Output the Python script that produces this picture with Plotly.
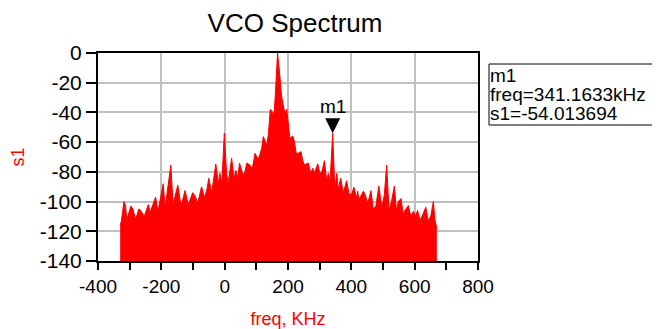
import plotly.graph_objects as go

# Spectrum data (freq in kHz, s1 in dB)
freq = [-330, -326, -318, -313, -309, -296, -290, -281, -271, -265, -254, -241, -235,
        -218, -211, -194, -188, -170, -163, -148, -138, -125, -115, -101, -94, -85,
        -73, -64, -57, -50, -41, -28, -20, -15, -9, -1, 6, 11, 22, 30, 35, 41, 47,
        56, 62, 70, 80, 87, 96, 104, 109, 117, 122, 127, 133, 138, 144, 150, 155,
        159, 164, 167, 171, 175, 180, 185, 190, 196, 201, 206, 215, 220, 226, 233,
        241, 246, 252, 264, 272, 278, 283, 294, 301, 308, 315, 322, 327, 333,
        341.1633, 348, 354, 359, 366, 375, 385, 393, 401, 408, 417, 420, 424, 430,
        438, 443, 452, 462, 469, 477, 487, 496, 504, 511.6, 519, 527, 536, 543,
        548, 557, 564, 569, 580, 588, 596, 603, 609, 617, 624, 635, 643, 651, 659,
        664, 670]
s1 = [-116, -113, -100, -103, -112, -103, -105, -112, -105, -106, -110, -102, -107,
      -97, -107, -88, -104, -75.4, -102, -89, -103, -92.6, -102, -94, -96, -101,
      -90, -97, -93, -84.3, -94, -74.7, -87.7, -81, -87.7, -54, -81, -87.7, -70.9,
      -85, -79, -84, -74.2, -80.7, -82, -74, -75.5, -78, -67.5, -71, -70, -64,
      -56.3, -58.8, -62, -55, -37.9, -39.5, -42.8, -31.6, -4.7, 0, -8, -20.4,
      -29.4, -35, -40.6, -37.9, -48, -57.4, -55.9, -59.4, -67.5, -67.5, -66.4,
      -72, -75.4, -74, -81, -77.5, -81, -74.6, -81.5, -79, -72.5, -86, -81, -86,
      -54.013694, -92, -81, -92, -84.3, -94, -86, -95, -95, -90.4, -97.6, -93,
      -98.8, -96.5, -93, -95, -101, -92.7, -104.5, -103.7, -89.5, -104, -95.7,
      -75.4, -105.7, -99.7, -89.5, -107.5, -100, -98, -108.7, -106, -102.7, -110,
      -106.5, -110, -106, -112.4, -109.7, -103.8, -113, -109.7, -100, -112.4, -118]

marker_freq = 341.1633
marker_s1 = -54.013694
x_ticks = [-400, -200, 0, 200, 400, 600, 800]
y_ticks = [0, -20, -40, -60, -80, -100, -120, -140]
x_range = [-400, 800]
y_range = [-140, 0]

RED = "#ff0000"
FONT = "Arial, Liberation Sans, sans-serif"

# The page body adds an 8px margin, so the figure is 8px smaller than the window
W, H = 652, 321
OFF = 8
L, T, R, B = 98 - OFF, 53 - OFF, 660 - 478, 329 - 261
PW, PH = W - L - R, H - T - B

def px_x(p):  # window pixel -> paper x
    return (p - OFF - L) / PW

def px_y(p):  # window pixel -> paper y
    return (H - B - (p - OFF)) / PH

fig = go.Figure()
# invisible baseline at the axis floor so the spectrum fills down to it
fig.add_trace(go.Scatter(x=[freq[0], freq[-1]], y=[y_range[0], y_range[0]], mode="lines",
                         line=dict(width=0, color=RED), hoverinfo="skip", showlegend=False))
fig.add_trace(go.Scatter(x=freq, y=s1, mode="lines", line=dict(color=RED, width=1),
                         fill="tonexty", fillcolor=RED, showlegend=False))

# marker m1: downward triangle with its tip on the point
fig.add_shape(type="path", xref="x", yref="y", xsizemode="pixel", ysizemode="pixel",
              xanchor=marker_freq, yanchor=marker_s1,
              path="M -7.5,15 L 7.5,15 L 0,0 Z", fillcolor="black", line=dict(width=0))
fig.add_annotation(x=marker_freq, y=marker_s1, text="m1", showarrow=False,
                   yanchor="bottom", yshift=14, font=dict(family=FONT, size=19, color="black"))

# readout box
fig.add_shape(type="rect", xref="paper", yref="paper", x0=px_x(489), x1=px_x(658),
              y0=px_y(125), y1=px_y(64), line=dict(color="black", width=1), fillcolor="white")
lines = ["m1", "freq=%.4fkHz" % marker_freq, "s1=%.6f" % marker_s1]
for i, t in enumerate(lines):
    fig.add_annotation(xref="paper", yref="paper", x=px_x(488), y=px_y(75.5 + i * 19),
                       text=t, showarrow=False, xanchor="left", yanchor="middle",
                       font=dict(family=FONT, size=19, color="black"))

fig.update_layout(
    width=W, height=H,
    margin=dict(l=L, r=R, t=T, b=B, autoexpand=False),
    paper_bgcolor="white", plot_bgcolor="white",
    title=dict(text="VCO Spectrum", x=(295 - OFF) / W, xanchor="center",
               y=1 - (23 - OFF) / H, yanchor="middle",
               font=dict(family=FONT, size=26, color="black")),
    font=dict(family=FONT, size=20, color="black"),
    showlegend=False,
)
fig.update_xaxes(range=x_range, tickvals=x_ticks, ticktext=[str(v) for v in x_ticks],
                 showgrid=True, gridcolor="#c0c0c0", automargin=False,
                 gridwidth=2, showline=True, linecolor="black", linewidth=2, mirror=True,
                 ticks="outside", ticklen=7, tickwidth=2, tickcolor="black", zeroline=False,
                 tickfont=dict(size=19),
                 minor=dict(dtick=100, tick0=-400, ticks="outside", ticklen=7, tickwidth=2,
                            tickcolor="black", showgrid=False),
                 title=dict(text="freq, KHz", font=dict(color=RED, size=18), standoff=17))
fig.update_yaxes(range=y_range, tickvals=y_ticks, ticktext=[str(v) for v in y_ticks],
                 showgrid=True, gridcolor="#c0c0c0", gridwidth=2, automargin=False,
                 showline=True, linecolor="black", linewidth=2, mirror=True,
                 ticks="outside", ticklen=10, tickwidth=2, tickcolor="black", zeroline=False,
                 tickfont=dict(size=21),
                 title=dict(text="s1", font=dict(color=RED, size=18), standoff=14))

fig.write_html("out.html")
